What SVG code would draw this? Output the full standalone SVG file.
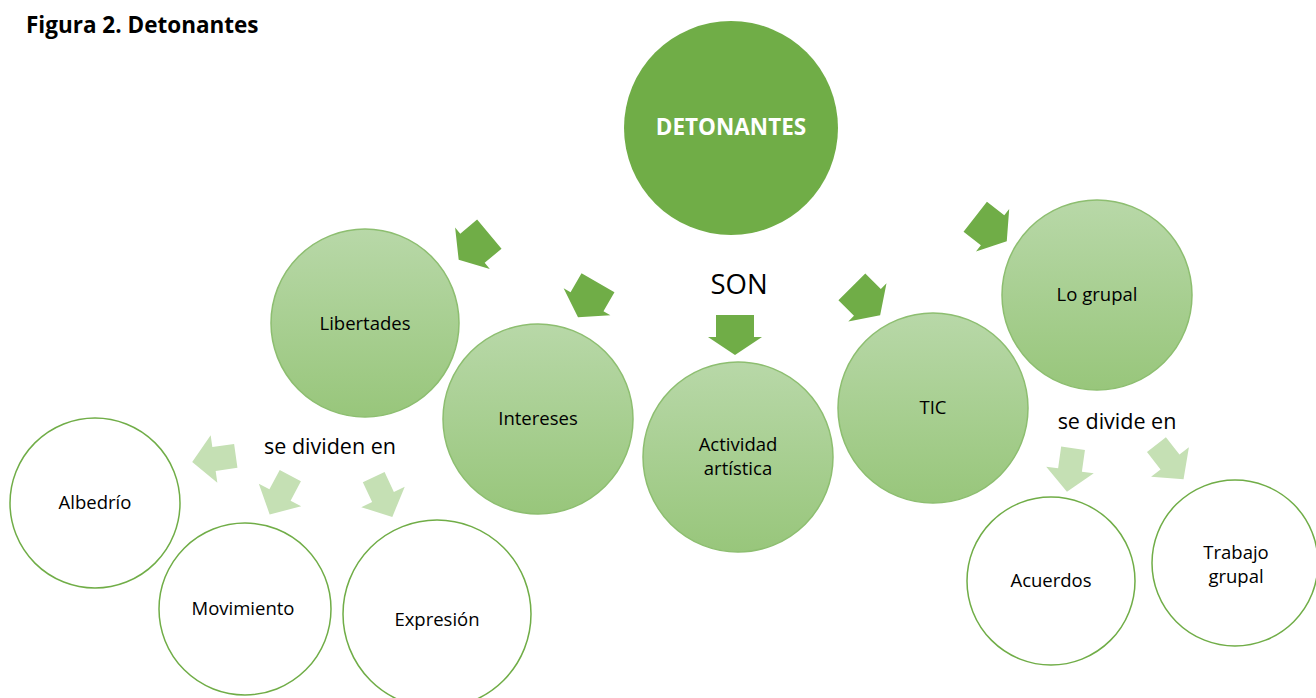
<svg xmlns="http://www.w3.org/2000/svg" width="1316" height="698" viewBox="0 0 1316 698">
<defs>
<linearGradient id="g" x1="0" y1="0" x2="0" y2="1">
<stop offset="0" stop-color="#B8D8A8"/>
<stop offset="1" stop-color="#98C67B"/>
</linearGradient>
<path id="arr" d="M-19,-20 H19 V2 H27 L0,20 L-27,2 H-19 Z"/>
<path id="arrs" d="M-12,-22 H12 V0 H24 L0,22 L-24,0 H-12 Z"/>
</defs>
<style>
.t{font-family:"Open Sans","Liberation Sans",sans-serif;font-size:18.5px;fill:#000;text-anchor:middle}
.mid{fill:url(#g);stroke:#8DBE70;stroke-width:1.5}
.out{fill:#fff;stroke:#70AD47;stroke-width:1.5}
.dk{fill:#70AD47}
.lt{fill:#C5E0B4}
</style>
<rect width="1316" height="698" fill="#fff"/>
<text x="26" y="33" style="font-family:'Open Sans','Liberation Sans',sans-serif;font-size:22.5px;font-weight:bold">Figura 2. Detonantes</text>

<g id="connectors">
<use href="#arr" class="dk" transform="translate(474,247) rotate(50)"/>
<use href="#arr" class="dk" transform="translate(588,300) rotate(30)"/>
<use href="#arr" class="dk" transform="translate(735,335)"/>
<use href="#arr" class="dk" transform="translate(866,301) rotate(-45)"/>
<use href="#arr" class="dk" transform="translate(991,229) rotate(-52)"/>
<use href="#arrs" class="lt" transform="translate(214,459) rotate(82)"/>
<use href="#arrs" class="lt" transform="translate(280,495) rotate(28)"/>
<use href="#arrs" class="lt" transform="translate(383,497) rotate(-25)"/>
<use href="#arrs" class="lt" transform="translate(1070,470) rotate(8)"/>
<use href="#arrs" class="lt" transform="translate(1170,462) rotate(-38)"/>
<text x="739" y="294" style="font-family:'Open Sans','Liberation Sans',sans-serif;font-size:27.5px;text-anchor:middle">SON</text>
<text x="330" y="454" style="font-family:'Open Sans','Liberation Sans',sans-serif;font-size:21.5px;text-anchor:middle">se dividen en</text>
<text x="1117" y="429" style="font-family:'Open Sans','Liberation Sans',sans-serif;font-size:21.5px;text-anchor:middle">se divide en</text>
</g>

<g id="detonantes">
<circle cx="731" cy="128" r="107" fill="#70AD47"/>
<text x="731" y="135" style="font-family:'Open Sans','Liberation Sans',sans-serif;font-size:22.5px;font-weight:bold;fill:#fff;text-anchor:middle">DETONANTES</text>
</g>
<g id="libertades">
<circle class="mid" cx="365" cy="323" r="94"/>
<text class="t" x="365" y="330">Libertades</text>
</g>
<g id="intereses">
<circle class="mid" cx="538" cy="419" r="95"/>
<text class="t" x="538" y="425">Intereses</text>
</g>
<g id="actividad">
<circle class="mid" cx="738" cy="457" r="95"/>
<text class="t" x="738" y="451">Actividad</text>
<text class="t" x="738" y="475">artística</text>
</g>
<g id="tic">
<circle class="mid" cx="933" cy="408" r="95"/>
<text class="t" x="933" y="414">TIC</text>
</g>
<g id="logrupal">
<circle class="mid" cx="1097" cy="295" r="95"/>
<text class="t" x="1097" y="301">Lo grupal</text>
</g>
<g id="albedrio">
<circle class="out" cx="95" cy="503" r="85"/>
<text class="t" x="95" y="509">Albedrío</text>
</g>
<g id="movimiento">
<circle class="out" cx="245" cy="609" r="86"/>
<text class="t" x="243" y="615">Movimiento</text>
</g>
<g id="expresion">
<circle class="out" cx="437" cy="614" r="94"/>
<text class="t" x="437" y="626">Expresión</text>
</g>
<g id="acuerdos">
<circle class="out" cx="1051" cy="581" r="84"/>
<text class="t" x="1051" y="587">Acuerdos</text>
</g>
<g id="trabajo">
<circle class="out" cx="1235" cy="563" r="83"/>
<text class="t" x="1236" y="559">Trabajo</text>
<text class="t" x="1236" y="583">grupal</text>
</g>
</svg>
